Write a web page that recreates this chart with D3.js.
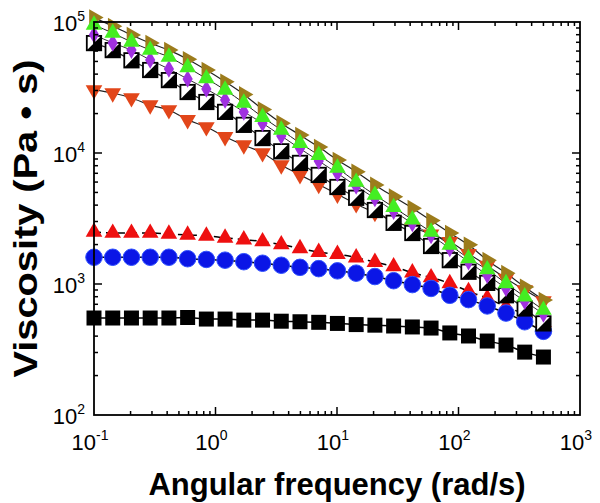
<!DOCTYPE html>
<html><head><meta charset="utf-8">
<script src="https://cdn.jsdelivr.net/npm/d3@7"></script>
<style>html,body{margin:0;padding:0;background:#fff;}</style>
</head><body>
<svg id="c" width="600" height="503"></svg>
<script>
// angular frequency (rad/s)
const freq = [0.1,0.1426,0.2034,0.29,0.4135,0.5897,0.8409,1.199,1.71,2.439,3.478,4.959,7.072,10.08,14.38,20.51,29.24,41.7,59.46,84.79,120.9,172.4,245.9,350.6,500];
// viscosity (Pa·s)
const blackSq = [550,550,550,550,550,555,540,540,530,530,520,515,510,500,490,485,478,470,461,423,401,367,342,302,277];
const redUp   = [2500,2450,2450,2450,2410,2370,2330,2250,2180,2110,2000,1870,1750,1690,1590,1470,1360,1220,1120,1010,880,780,670,590,510];
const blueCirc= [1600,1600,1600,1600,1600,1560,1540,1520,1480,1440,1390,1340,1310,1260,1210,1140,1060,990,925,820,760,680,600,515,435];
const orangeDn= [30300,28700,26300,23200,21300,17900,15800,13300,11500,10000,8090,6810,5740,4840,4080,3500,3000,2700,2400,2100,1700,1380,1100,900,740];
const halfSq  = [69000,61000,51000,43000,36000,29200,24500,20600,16400,13000,10300,8400,6800,5500,4550,3670,2930,2450,1950,1520,1240,1020,820,650,500];
const purpleDi= [80000,69200,61000,51300,43800,36700,30800,25400,20600,16900,13500,10800,8700,7000,5600,4500,3600,2900,2350,1870,1480,1170,930,740,590];
const brownRt = [108000,93000,79600,69000,61000,52000,43000,35000,28000,21500,16900,13700,11100,8850,7180,5710,4640,3790,3050,2450,1990,1520,1210,950,755];
const greenUp = [94900,82400,70400,61100,54100,45000,37000,30300,24100,18800,15000,11900,9640,7700,6000,4780,3850,3100,2500,1990,1570,1290,1010,800,633];

const xTicks = [0.1,1,10,100,1000];
const xTickExp = ["-1","0","1","2","3"];
const yTicks = [100,1000,10000,100000];
const yTickExp = ["2","3","4","5"];

const L=94,R=580,T=22,B=415;
const svg=d3.select("#c");
const x=d3.scaleLog().domain([0.1,1000]).range([L,R]);
const y=d3.scaleLog().domain([100,100000]).range([B,T]);

// lines
const line=d3.line().x((d,i)=>x(freq[i])).y(d=>y(d)).curve(d3.curveMonotoneX);
function drawLine(data,opts){
  svg.append("path").attr("d",line(data)).attr("fill","none")
    .attr("stroke",opts.c||"#000").attr("stroke-width",opts.w||1)
    .attr("stroke-dasharray",opts.dash||null);
}
drawLine(blackSq,{w:1.5});
drawLine(redUp,{w:1.5,dash:"7,5"});
drawLine(blueCirc,{w:1.5});
drawLine(orangeDn,{w:1.2,c:"#222"});
drawLine(halfSq,{w:1.2,c:"#222"});
drawLine(purpleDi,{w:1,c:"#333"});
drawLine(greenUp,{w:1,c:"#222"});
drawLine(brownRt,{w:1.2,c:"#222"});

// markers
const g=svg.append("g");
function sym(data,type,size,fill,rot,stroke){
  g.selectAll(null).data(data).enter().append("path")
   .attr("d",d3.symbol().type(type).size(size)())
   .attr("transform",(d,i)=>`translate(${x(freq[i])},${y(d)}) rotate(${rot||0})`)
   .attr("fill",fill).attr("stroke",stroke||"none").attr("stroke-width",stroke?1:0);
}
sym(blackSq,d3.symbolSquare,225,"#000");
sym(redUp,d3.symbolTriangle,120,"#ee1010");
sym(blueCirc,d3.symbolCircle,215,"#0b16e6","0","#3050ff");
sym(orangeDn,d3.symbolTriangle,120,"#e2461a",180);
// half-filled squares
const hs=7.2;
const hg=g.selectAll(null).data(halfSq).enter().append("g")
  .attr("transform",(d,i)=>`translate(${x(freq[i])},${y(d)})`);
hg.append("rect").attr("x",-hs).attr("y",-hs).attr("width",2*hs).attr("height",2*hs)
  .attr("fill","#fff").attr("stroke","#000").attr("stroke-width",1.8);
hg.append("path").attr("d",`M${hs},${-hs}L${hs},${hs}L${-hs},${hs}Z`).attr("fill","#000");
sym(purpleDi,d3.symbolDiamond,90,"#a030e0");
sym(brownRt,d3.symbolTriangle,120,"#9c7c1c",90);
sym(greenUp,d3.symbolTriangle,120,"#44ee22");

// frame
svg.append("rect").attr("x",L).attr("y",T).attr("width",R-L).attr("height",B-T)
  .attr("fill","none").attr("stroke","#000").attr("stroke-width",1.8);

// ticks
const tg=svg.append("g").attr("stroke","#000").attr("stroke-width",1.5);
const isMajor=v=>Math.abs(Math.log10(v)-Math.round(Math.log10(v)))<1e-6;
x.ticks().forEach(v=>{
  const len=isMajor(v)?8:4, px=x(v);
  if(px<=L+0.5||px>=R-0.5) return;
  tg.append("line").attr("x1",px).attr("x2",px).attr("y1",B).attr("y2",B-len);
  tg.append("line").attr("x1",px).attr("x2",px).attr("y1",T).attr("y2",T+len);
});
y.ticks().forEach(v=>{
  const len=isMajor(v)?8:4, py=y(v);
  if(py<=T+0.5||py>=B-0.5) return;
  tg.append("line").attr("y1",py).attr("y2",py).attr("x1",L).attr("x2",L+len);
  tg.append("line").attr("y1",py).attr("y2",py).attr("x1",R).attr("x2",R-len);
});

// tick labels
const font="'Liberation Sans', Arial, sans-serif";
xTicks.forEach((v,i)=>{
  const t=svg.append("text").attr("x",x(v)-4).attr("y",450).attr("text-anchor","middle")
    .attr("font-family",font).attr("font-size",22).attr("fill","#000");
  t.append("tspan").text("10");
  t.append("tspan").attr("dy",-10).attr("font-size",14).text(xTickExp[i]);
});
yTicks.forEach((v,i)=>{
  const t=svg.append("text").attr("x",85).attr("y",y(v)+9).attr("text-anchor","end")
    .attr("font-family",font).attr("font-size",22).attr("fill","#000");
  t.append("tspan").text("10");
  t.append("tspan").attr("dy",-10).attr("font-size",14).text(yTickExp[i]);
});

// axis titles
svg.append("text").attr("x",(L+R)/2).attr("y",495).attr("text-anchor","middle")
  .attr("font-family",font).attr("font-weight","bold").attr("font-size",31).text("Angular frequency (rad/s)");
svg.append("text").attr("transform",`translate(37,${(T+B)/2}) rotate(-90)`).attr("text-anchor","middle")
  .attr("font-family",font).attr("font-weight","bold").attr("font-size",34)
  .attr("textLength",318).attr("lengthAdjust","spacingAndGlyphs").text("Viscosity (Pa • s)");
</script>
</body></html>
